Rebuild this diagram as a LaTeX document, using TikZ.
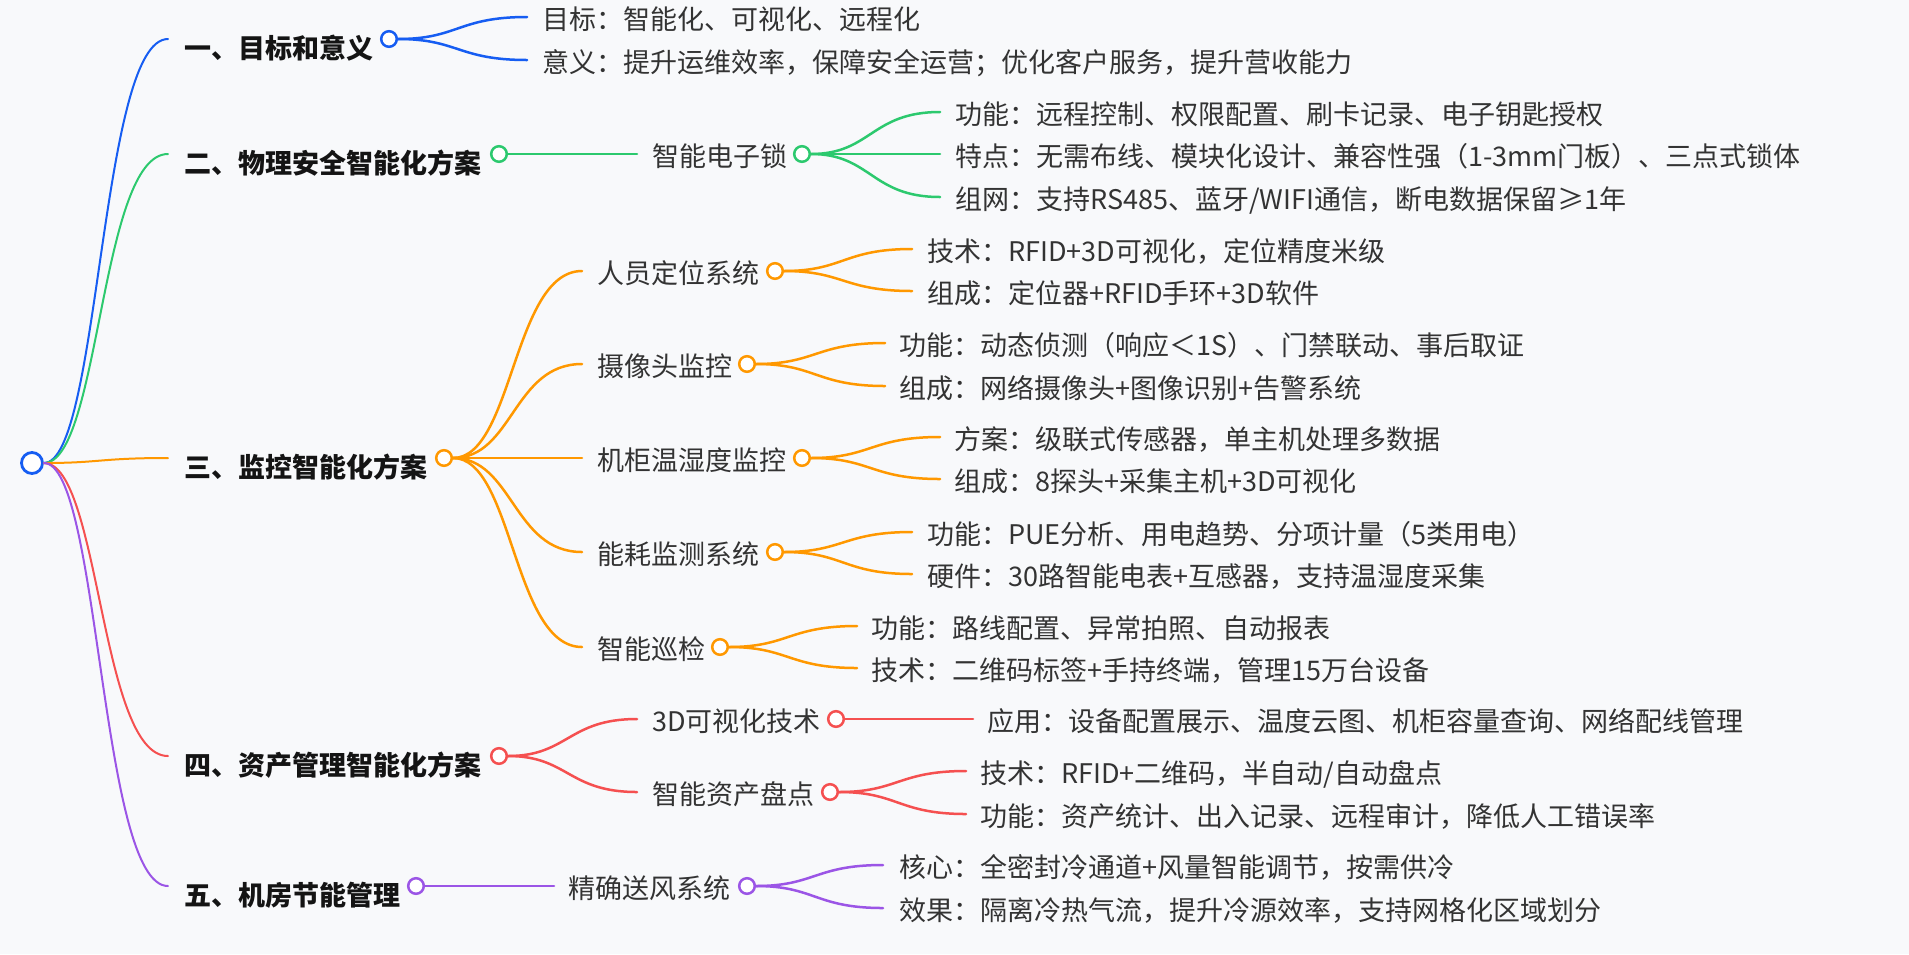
\documentclass[tikz,border=0pt]{standalone}
\usepackage{fontspec}
\setmainfont{Noto Sans CJK SC}
\usetikzlibrary{calc}
\definecolor{bgcol}{RGB}{248,249,251}
\definecolor{cblue}{RGB}{22,93,242}
\definecolor{cgreen}{RGB}{44,201,110}
\definecolor{corange}{RGB}{255,152,0}
\definecolor{cred}{RGB}{245,80,80}
\definecolor{cpurple}{RGB}{155,85,230}
\newcommand\mapfont{\fontsize{13.5pt}{16pt}\selectfont}
\tikzset{
  hub/.style={circle, draw=cblue, fill=white, line width=1.4pt, minimum size=10.5pt, inner sep=0pt},
  knob/.style={circle, draw=#1, fill=white, line width=1.25pt, minimum size=7.8pt, inner sep=0pt},
  branch/.style={line width=1.25pt, line cap=round,
    to path={.. controls ($(\tikztostart)!.5!(\tikztotarget |- \tikztostart)$)
      and ($(\tikztotarget)!.5!(\tikztostart |- \tikztotarget)$) .. (\tikztotarget)}},
  trunk/.style={branch, line width=1pt},
  lvl1/.style={anchor=base west, inner sep=0pt, font=\mapfont\bfseries, text=black!92},
  leaf/.style={anchor=base west, inner sep=0pt, font=\mapfont, text=black!80},
}
\begin{document}
\begin{tikzpicture}[x=0.5pt, y=-0.5pt]
\fill[bgcol] (0,0) rectangle (1909,954);
\useasboundingbox (0,0) rectangle (1909,954);
\node[hub] (r) at (32,463) {};

% main branches
\coordinate (e1) at (168,39);
\coordinate (e2) at (168,154);
\coordinate (e3) at (168,458);
\coordinate (e4) at (168,756);
\coordinate (e5) at (168,886);
\node[lvl1] (t1) at (184,58) {一、目标和意义};
\node[lvl1] (t2) at (184,173) {二、物理安全智能化方案};
\node[lvl1] (t3) at (184,477) {三、监控智能化方案};
\node[lvl1] (t4) at (184,775) {四、资产管理智能化方案};
\node[lvl1] (t5) at (184,905) {五、机房节能管理};
\node[knob=cblue] (c1) at (389,39) {};
\node[knob=cgreen] (c2) at (499,154) {};
\node[knob=corange] (c3) at (444,458) {};
\node[knob=cred] (c4) at (499,756) {};
\node[knob=cpurple] (c5) at (416,886) {};
\draw[trunk, cblue] (r) to (e1);
\draw[trunk, cgreen] (r) to (e2);
\draw[trunk, corange] (r) to (e3);
\draw[trunk, cred] (r) to (e4);
\draw[trunk, cpurple] (r) to (e5);

% 一
\coordinate (e11) at (527,17);
\coordinate (e12) at (527,60);
\node[leaf] (t11) at (542,29) {目标：智能化、可视化、远程化};
\node[leaf] (t12) at (542,72) {意义：提升运维效率，保障安全运营；优化客户服务，提升营收能力};
\draw[branch, cblue] (c1) to (e11);
\draw[branch, cblue] (c1) to (e12);

% 二
\coordinate (e21) at (637,154);
\node[leaf] (t21) at (652,166) {智能电子锁};
\node[knob=cgreen] (c21) at (802,154) {};
\coordinate (e211) at (940,112);
\coordinate (e212) at (940,154);
\coordinate (e213) at (940,197);
\node[leaf] (t211) at (955,124) {功能：远程控制、权限配置、刷卡记录、电子钥匙授权};
\node[leaf] (t212) at (955,166) {特点：无需布线、模块化设计、兼容性强（1-3mm门板）、三点式锁体};
\node[leaf] (t213) at (955,209) {组网：支持RS485、蓝牙/WIFI通信，断电数据保留≥1年};
\draw[branch, cgreen] (c2) to (e21);
\draw[branch, cgreen] (c21) to (e211);
\draw[branch, cgreen] (c21) to (e212);
\draw[branch, cgreen] (c21) to (e213);

% 三
\coordinate (e31) at (582,271);
\coordinate (e32) at (582,364);
\coordinate (e33) at (582,458);
\coordinate (e34) at (582,552);
\coordinate (e35) at (582,647);
\node[leaf] (t31) at (597,283) {人员定位系统};
\node[leaf] (t32) at (597,376) {摄像头监控};
\node[leaf] (t33) at (597,470) {机柜温湿度监控};
\node[leaf] (t34) at (597,564) {能耗监测系统};
\node[leaf] (t35) at (597,659) {智能巡检};
\node[knob=corange] (c31) at (775,271) {};
\node[knob=corange] (c32) at (747,364) {};
\node[knob=corange] (c33) at (802,458) {};
\node[knob=corange] (c34) at (775,552) {};
\node[knob=corange] (c35) at (720,647) {};
\coordinate (e311) at (912,249);
\coordinate (e312) at (912,291);
\coordinate (e321) at (885,343);
\coordinate (e322) at (885,386);
\coordinate (e331) at (940,437);
\coordinate (e332) at (940,479);
\coordinate (e341) at (912,532);
\coordinate (e342) at (912,574);
\coordinate (e351) at (857,626);
\coordinate (e352) at (857,668);
\node[leaf] (t311) at (927,261) {技术：RFID+3D可视化，定位精度米级};
\node[leaf] (t312) at (927,303) {组成：定位器+RFID手环+3D软件};
\node[leaf] (t321) at (899,355) {功能：动态侦测（响应＜1S）、门禁联动、事后取证};
\node[leaf] (t322) at (899,398) {组成：网络摄像头+图像识别+告警系统};
\node[leaf] (t331) at (954,449) {方案：级联式传感器，单主机处理多数据};
\node[leaf] (t332) at (954,491) {组成：8探头+采集主机+3D可视化};
\node[leaf] (t341) at (927,544) {功能：PUE分析、用电趋势、分项计量（5类用电）};
\node[leaf] (t342) at (927,586) {硬件：30路智能电表+互感器，支持温湿度采集};
\node[leaf] (t351) at (871,638) {功能：路线配置、异常拍照、自动报表};
\node[leaf] (t352) at (871,680) {技术：二维码标签+手持终端，管理15万台设备};
\foreach \k in {1,...,5} {\draw[branch, corange] (c3) to (e3\k);}
\foreach \k in {1,...,5} {
  \draw[branch, corange] (c3\k) to (e3\k1);
  \draw[branch, corange] (c3\k) to (e3\k2);
}

% 四
\coordinate (e41) at (637,719);
\coordinate (e42) at (637,792);
\node[leaf] (t41) at (652,731) {3D可视化技术};
\node[leaf] (t42) at (652,804) {智能资产盘点};
\node[knob=cred] (c41) at (836,719) {};
\node[knob=cred] (c42) at (830,792) {};
\coordinate (e411) at (973,719);
\coordinate (e421) at (966,771);
\coordinate (e422) at (966,814);
\node[leaf] (t411) at (987,731) {应用：设备配置展示、温度云图、机柜容量查询、网络配线管理};
\node[leaf] (t421) at (980,783) {技术：RFID+二维码，半自动/自动盘点};
\node[leaf] (t422) at (980,826) {功能：资产统计、出入记录、远程审计，降低人工错误率};
\draw[branch, cred] (c4) to (e41);
\draw[branch, cred] (c4) to (e42);
\draw[branch, cred] (c41) to (e411);
\draw[branch, cred] (c42) to (e421);
\draw[branch, cred] (c42) to (e422);

% 五
\coordinate (e51) at (554,886);
\node[leaf] (t51) at (568,898) {精确送风系统};
\node[knob=cpurple] (c51) at (747,886) {};
\coordinate (e511) at (883,865);
\coordinate (e512) at (883,908);
\node[leaf] (t511) at (899,877) {核心：全密封冷通道+风量智能调节，按需供冷};
\node[leaf] (t512) at (899,920) {效果：隔离冷热气流，提升冷源效率，支持网格化区域划分};
\draw[branch, cpurple] (c5) to (e51);
\draw[branch, cpurple] (c51) to (e511);
\draw[branch, cpurple] (c51) to (e512);
\end{tikzpicture}
\end{document}
